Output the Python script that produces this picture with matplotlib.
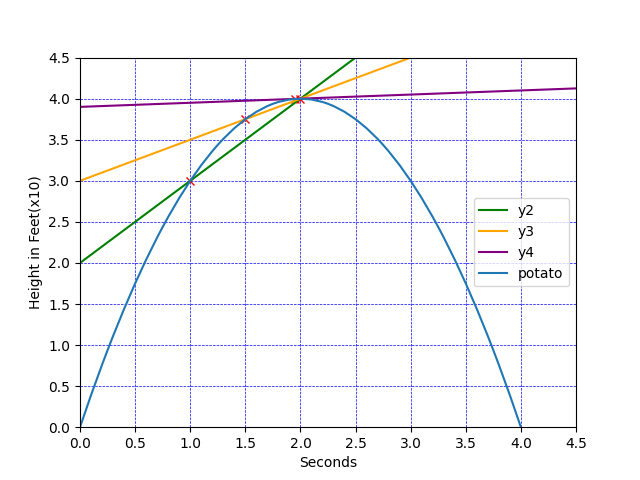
import matplotlib
matplotlib.use('Agg')
import matplotlib.pyplot as plt

# potato height samples
t = [0.0, 0.25, 0.5, 0.75, 1.0, 1.25, 1.5, 1.75, 2.0, 2.25, 2.5, 2.75, 3.0, 3.25, 3.5, 3.75, 4.0]
h = [0.0, 0.9375, 1.75, 2.4375, 3.0, 3.4375, 3.75, 3.9375, 4.0, 3.9375, 3.75, 3.4375, 3.0, 2.4375, 1.75, 0.9375, 0.0]

# finer samples for a smooth curve
t_fine = [0.0, 0.1, 0.2, 0.3, 0.4, 0.6, 0.7, 0.8, 0.9, 1.1, 1.2, 1.3, 1.4, 1.6, 1.7, 1.8, 1.9,
          2.1, 2.2, 2.3, 2.4, 2.6, 2.7, 2.8, 2.9, 3.1, 3.2, 3.3, 3.4, 3.6, 3.7, 3.8, 3.9, 4.0]
h_fine = [0.0, 0.39, 0.76, 1.11, 1.44, 2.04, 2.31, 2.56, 2.79, 3.19, 3.36, 3.51, 3.64, 3.84, 3.91, 3.96, 3.99,
          3.99, 3.96, 3.91, 3.84, 3.64, 3.51, 3.36, 3.19, 2.79, 2.56, 2.31, 2.04, 1.44, 1.11, 0.76, 0.39, 0.0]

# secant points
pts_x = [1.0, 1.5, 1.95, 2.0]
pts_y = [3.0, 3.75, 3.9975, 4.0]

# secant lines (endpoints at x=0 and x=4.5)
line_x = [0.0, 4.5]
y2 = [2.0, 6.5]
y3 = [3.0, 5.25]
y4 = [3.9, 4.125]

pt = sorted(zip(t + t_fine, h + h_fine))
pt_t = [p[0] for p in pt]
pt_h = [p[1] for p in pt]

fig, ax = plt.subplots(figsize=(6.4, 4.8), dpi=100)
ax.plot(pts_x, pts_y, 'rx')
ax.plot(line_x, y2, color='green', label='y2')
ax.plot(line_x, y3, color='orange', label='y3')
ax.plot(line_x, y4, color='purple', label='y4')
ax.plot(pt_t, pt_h, label='potato')
ax.set_xlim(0, 4.5)
ax.set_ylim(0, 4.5)
ax.set_xticks([i * 0.5 for i in range(10)])
ax.set_yticks([i * 0.5 for i in range(10)])
ax.grid(color='b', linestyle='--', linewidth=0.5)
ax.set_xlabel('Seconds')
ax.set_ylabel('Height in Feet(x10)')
ax.legend(loc='center right')
fig.savefig('out.png')
